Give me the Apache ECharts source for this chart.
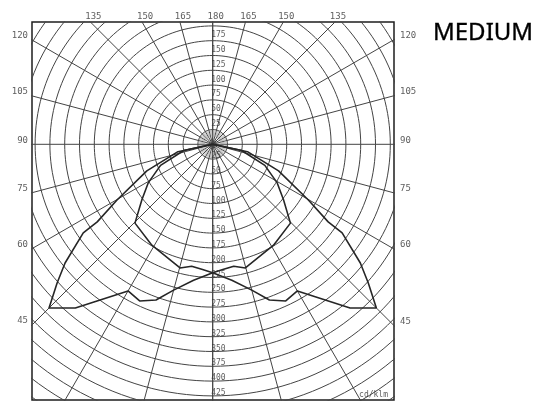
<!DOCTYPE html>
<html><head><meta charset="utf-8">
<script src="https://cdn.jsdelivr.net/npm/echarts@6/dist/echarts.min.js"></script>
<style>html,body{margin:0;padding:0;background:#fff}#c{width:538px;height:402px}</style>
</head><body><div id="c"></div>
<script>
// ---- data ----
const titleText = 'MEDIUM';
const unitText = 'cd/klm';
const ringValues = [25,50,75,100,125,150,175,200,225,250,275,300,325,350,375,400,425,450,475,500,525,550];
const upperRingLabels = [25,50,75,100,125,150,175];
const lowerRingLabels = [25,50,75,100,125,150,175,200,225,250,275,300,325,350,375,400,425];
const spokeAngles = [0,15,30,45,60,75,90,105,120,135,150,165,180];
const hatchAngles = [5,10,20,25,35,40,50,55,65,70,80,85,95,100,110,115,125,130,140,145,155,160,170,175];
const topAngleLabels = [135,150,165,180];
const sideAngleLabels = [120,105,90,75,60,45];
// curve A (wide), gamma in degrees from nadir, intensity cd/klm (one half, symmetric)
const wideGamma     = [0,   8,   15,  20,  25,  30,  40,  45,  48.3, 51.2, 55.6, 56.1, 59.8, 68, 78, 90];
const wideIntensity = [217, 232, 255, 280, 292, 286, 361, 391, 352,  320,  265,  235,  187,  120, 60, 0];
// curve B (narrow)
const bellGamma     = [0,   5,   9.8, 14.8, 31.1, 44.6, 51.9, 59.1, 68, 78, 90];
const bellIntensity = [217, 212, 209, 216,  199,  187,  152,  127,  95, 50, 0];

// ---- geometry helpers ----
const K = 0.592;               // px per cd/klm
const X_MIN = -(212.7-32)/K, X_MAX = (394-212.7)/K;
const Y_MAX = (144.3-22)/K,  Y_MIN = -(400-144.3)/K;
const rad = d => d*Math.PI/180;
function pt(side, g, r){ return [side*r*Math.sin(rad(g)), -r*Math.cos(rad(g))]; }

const series = [];
const gridStyle = {color:'#444', width:1};
function lineSeries(data, style, z){
  return {type:'line', data, showSymbol:false, symbol:'none', silent:true, animation:false,
    clip:true, lineStyle:style, z:z||1};
}
// rings
ringValues.forEach(r=>{
  const d=[]; for(let a=0;a<=360;a+=2){ d.push([r*Math.sin(rad(a)), r*Math.cos(rad(a))]); }
  series.push(lineSeries(d, gridStyle));
});
// spokes
spokeAngles.forEach(g=>{
  series.push(lineSeries([[0,0], pt(-1,g,900)], gridStyle));
  series.push(lineSeries([[0,0], pt(1,g,900)], gridStyle));
});
// inner hatch
hatchAngles.forEach(g=>{
  series.push(lineSeries([pt(-1,g,13), pt(-1,g,25)], {color:'#9a9a9a', width:0.6}));
  series.push(lineSeries([pt(1,g,13), pt(1,g,25)], {color:'#9a9a9a', width:0.6}));
});
// curves
function curve(gs, vs){
  const d=[];
  for(let i=gs.length-1;i>=0;i--) d.push(pt(1,gs[i],vs[i]));
  for(let i=0;i<gs.length;i++) d.push(pt(-1,gs[i],vs[i]));
  return d;
}
const curveStyle = {color:'#262626', width:1.6};
series.push(lineSeries(curve(wideGamma, wideIntensity), curveStyle, 5));
series.push(lineSeries(curve(bellGamma, bellIntensity), curveStyle, 5));

// labels via scatter
function labelSeries(data, lab){
  return {type:'scatter', data, symbolSize:1, itemStyle:{color:'rgba(0,0,0,0)'}, silent:true,
    animation:false, clip:false, z:10,
    label:Object.assign({show:true, position:'inside', formatter:p=>p.data[2],
      fontFamily:'DejaVu Sans Mono', color:'#333'}, lab)};
}
const ringLblFont = {fontSize:8, align:'left', verticalAlign:'middle'};
series.push(labelSeries(upperRingLabels.map(v=>[0, v, String(v)]), Object.assign({offset:[-1.5,-5.5]}, ringLblFont)));
series.push(labelSeries(lowerRingLabels.map(v=>[0, -v, String(v)]), Object.assign({offset:[-1.5,-3]}, ringLblFont)));
// top angle labels
const topData = [];
topAngleLabels.forEach(g=>{
  const x = Y_MAX*Math.tan(rad(180-g));
  topData.push([-x, Y_MAX, String(g)]);
  if (g!==180) topData.push([x, Y_MAX, String(g)]);
});
series.push(labelSeries(topData, {fontSize:9, align:'center', verticalAlign:'middle', offset:[3,-5]}));
// side angle labels
const sideL = sideAngleLabels.map(g=>[X_MIN, (-X_MIN)*(-Math.cos(rad(g)))/Math.sin(rad(g)), String(g)]);
const sideR = sideAngleLabels.map(g=>[X_MAX, -X_MAX*Math.cos(rad(g))/Math.sin(rad(g)), String(g)]);
series.push(labelSeries(sideL, {fontSize:9, align:'right', verticalAlign:'middle', offset:[-4,-4]}));
series.push(labelSeries(sideR, {fontSize:9, align:'left', verticalAlign:'middle', offset:[6,-4]}));
// unit label
series.push(labelSeries([[X_MAX, Y_MIN, unitText]], {fontSize:8, align:'right', verticalAlign:'bottom', offset:[-6,-1]}));

const chart = echarts.init(document.getElementById('c'), null, {renderer:'canvas'});
chart.setOption({
  animation:false,
  backgroundColor:'#fff',
  title:{text:titleText, left:428, top:16, textStyle:{fontFamily:'Noto Sans', fontSize:24, fontWeight:'normal', color:'#000', textBorderColor:'#000', textBorderWidth:0.35}},
  grid:{left:32, top:22, width:362, height:378, show:true, borderColor:'#1e1e1e', borderWidth:1.5, backgroundColor:'transparent'},
  xAxis:{type:'value', min:X_MIN, max:X_MAX, show:false},
  yAxis:{type:'value', min:Y_MIN, max:Y_MAX, show:false},
  series
});
</script></body></html>
